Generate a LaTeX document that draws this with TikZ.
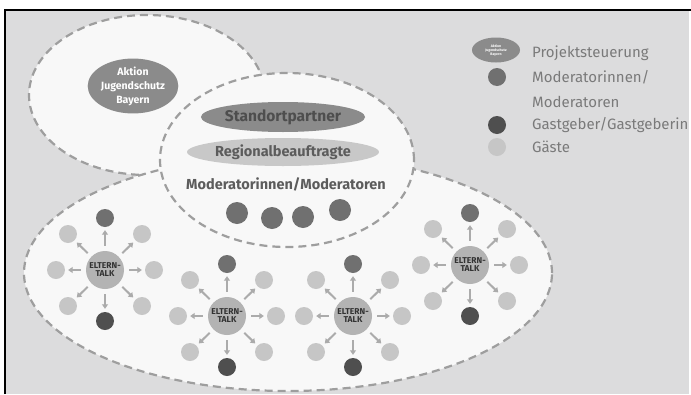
\documentclass[tikz,border=0pt]{standalone}
\usepackage{fontspec}
\setmainfont{Fira Sans}
\usetikzlibrary{shapes}
\usetikzlibrary{arrows.meta}
\definecolor{bgcol}{HTML}{DCDCDD}
\definecolor{zonecol}{HTML}{F8F8F8}
\definecolor{dashcol}{HTML}{9E9E9E}
\definecolor{projcol}{HTML}{8B8B8B}
\definecolor{regcol}{HTML}{C8C8C8}
\definecolor{modcol}{HTML}{707070}
\definecolor{hostcol}{HTML}{4F4F4F}
\definecolor{guestcol}{HTML}{C6C6C6}
\definecolor{talkcol}{HTML}{B3B3B3}
\definecolor{arrowcol}{HTML}{ABABAB}
\definecolor{textcol}{HTML}{5C5C5C}
\definecolor{legcol}{HTML}{7A7A7A}
\tikzset{
    zone/.style = {fill=zonecol, draw=dashcol, line width=2.2pt, dash pattern=on 8pt off 5pt},
    mynodep/.style = {ellipse, fill=projcol, inner sep=0pt, align=center, text=white, font=\bfseries\fontsize{10.5}{14}\selectfont, minimum width=87pt, minimum height=45pt},
    mynodes/.style = {ellipse, fill=projcol, inner sep=0pt, align=center, text=textcol!85!black, font=\bfseries\fontsize{15.5}{15.5}\selectfont, minimum width=140pt, minimum height=30pt},
    mynoder/.style = {ellipse, fill=regcol, inner sep=0pt, align=center, text=textcol, font=\bfseries\fontsize{14.5}{14.5}\selectfont, minimum width=160pt, minimum height=28pt},
    mynodet/.style = {circle, fill=talkcol, inner sep=0pt, align=center, text=black!80, font=\bfseries\fontsize{8.5}{8}\selectfont, minimum size=38pt},
    mynodem/.style = {circle, fill=modcol, inner sep=0pt, minimum size=18pt},
    mynodeh/.style = {circle, fill=hostcol, inner sep=0pt, minimum size=18pt},
    mynodeg/.style = {circle, fill=guestcol, inner sep=0pt, minimum size=18pt},
    mytext/.style = {inner sep=0pt, text=textcol, font=\bfseries\fontsize{14.5}{14.5}\selectfont},
    mylabel/.style = {anchor=west, inner sep=0pt, align=left, text=legcol, font=\fontsize{15}{25}\selectfont},
    edgea/.style = {-{Triangle[length=4.5pt,width=6pt]}, line width=2pt, arrowcol, shorten <=5pt, shorten >=3pt},
}

\begin{document}
\begin{tikzpicture}[x=1pt,y=-1pt]
\useasboundingbox (0,0) rectangle (691,394);
\fill[bgcol] (5,10) rectangle (689,394);
\draw[line width=1.5pt] (5,394) -- (5,10) -- (691,10);

% zones
\filldraw[zone] (147, 95) ellipse [x radius=118pt, y radius=80pt];
\filldraw[zone] (288,273) ellipse [x radius=264pt, y radius=118pt];
\filldraw[zone] (287,160) ellipse [x radius=127pt, y radius=87pt];

\node[mynodep] at (133, 86) (ajb) {Aktion\\Jugendschutz\\Bayern};
\node[mynodes] at (283,117) (sp) {Standortpartner};
\node[mynoder] at (283,152) (rb) {Regionalbeauftragte};
\node[mytext] at (286,184) (mods) {Moderatorinnen/Moderatoren};
\node[mynodem, minimum size=22pt] at (237,213) (m1) {};
\node[mynodem, minimum size=22pt] at (272,218) (m2) {};
\node[mynodem, minimum size=22pt] at (303,217) (m3) {};
\node[mynodem, minimum size=22pt] at (340,210) (m4) {};

% ELTERN-TALK 1
\node[mynodet] at (105,270) (1) {ELTERN-\\TALK};
\node[mynodem] at (105,218) (1n) {};
\node[mynodeh] at (105,321) (1s) {};
\node[mynodeg] at ( 56,270) (1w) {};
\node[mynodeg] at (154,270) (1e) {};
\node[mynodeg] at ( 68,234) (1nw) {};
\node[mynodeg] at (142,234) (1ne) {};
\node[mynodeg] at ( 68,306) (1sw) {};
\node[mynodeg] at (142,306) (1se) {};

% ELTERN-TALK 2
\node[mynodet] at (227,316) (2) {ELTERN-\\TALK};
\node[mynodem] at (227,264) (2n) {};
\node[mynodeh] at (227,367) (2s) {};
\node[mynodeg] at (178,316) (2w) {};
\node[mynodeg] at (276,316) (2e) {};
\node[mynodeg] at (190,280) (2nw) {};
\node[mynodeg] at (264,280) (2ne) {};
\node[mynodeg] at (190,352) (2sw) {};
\node[mynodeg] at (264,352) (2se) {};

% ELTERN-TALK 3
\node[mynodet] at (353,316) (3) {ELTERN-\\TALK};
\node[mynodem] at (353,264) (3n) {};
\node[mynodeh] at (353,367) (3s) {};
\node[mynodeg] at (304,316) (3w) {};
\node[mynodeg] at (402,316) (3e) {};
\node[mynodeg] at (316,280) (3nw) {};
\node[mynodeg] at (390,280) (3ne) {};
\node[mynodeg] at (316,352) (3sw) {};
\node[mynodeg] at (390,352) (3se) {};

% ELTERN-TALK 4
\node[mynodet] at (470,265) (4) {ELTERN-\\TALK};
\node[mynodem] at (470,213) (4n) {};
\node[mynodeh] at (470,316) (4s) {};
\node[mynodeg] at (421,265) (4w) {};
\node[mynodeg] at (519,265) (4e) {};
\node[mynodeg] at (433,229) (4nw) {};
\node[mynodeg] at (507,229) (4ne) {};
\node[mynodeg] at (433,301) (4sw) {};
\node[mynodeg] at (507,301) (4se) {};

\draw[edgea] (1) edge (1n) edge (1s) edge (1w) edge (1e) edge (1nw) edge (1ne) edge (1sw) edge (1se);
\draw[edgea] (2) edge (2n) edge (2s) edge (2w) edge (2e) edge (2nw) edge (2ne) edge (2sw) edge (2se);
\draw[edgea] (3) edge (3n) edge (3s) edge (3w) edge (3e) edge (3nw) edge (3ne) edge (3sw) edge (3se);
\draw[edgea] (4) edge (4n) edge (4s) edge (4w) edge (4e) edge (4nw) edge (4ne) edge (4sw) edge (4se);

% legend
\node[mynodep, minimum width=48pt, minimum height=25pt, font=\bfseries\fontsize{3.5}{4}\selectfont] at (496, 50) (lp) {Aktion\\Jugendschutz\\Bayern};
\node[mynodem] at (497, 77) (lm) {};
\node[mynodeh] at (497,125) (lh) {};
\node[mynodeg] at (497,147) (lg) {};
\node[mylabel] at (532, 53) (tp) {Projektsteuerung};
\node[mylabel] at (532, 89.5) (tm) {Moderatorinnen/\\Moderatoren};
\node[mylabel] at (532,125) (th) {Gastgeber/Gastgeberin};
\node[mylabel] at (532,147) (tg) {Gäste};

\end{tikzpicture}
\end{document}
